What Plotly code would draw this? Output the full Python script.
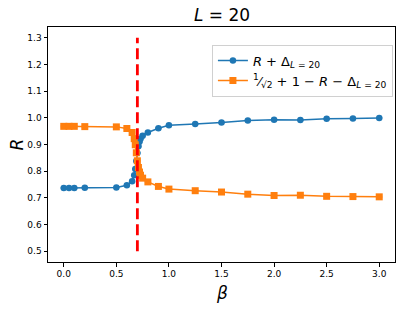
import plotly.graph_objects as go

beta = [0.0, 0.05, 0.1, 0.2, 0.5, 0.6, 0.65, 0.67, 0.68, 0.69, 0.7, 0.71, 0.72, 0.73, 0.75,
        0.8, 0.9, 1.0, 1.25, 1.5, 1.75, 2.0, 2.25, 2.5, 2.75, 3.0]
r_plus_delta = [0.737, 0.737, 0.737, 0.738, 0.739, 0.747, 0.762, 0.785, 0.808, 0.838, 0.868,
                0.893, 0.910, 0.922, 0.933, 0.945, 0.961, 0.972, 0.977, 0.982, 0.990, 0.993,
                0.992, 0.996, 0.997, 0.999]
r_complement = [0.968, 0.968, 0.968, 0.967, 0.966, 0.960, 0.945, 0.922, 0.899, 0.869, 0.839,
                0.814, 0.797, 0.785, 0.774, 0.760, 0.743, 0.733, 0.727, 0.722, 0.714, 0.709,
                0.710, 0.706, 0.705, 0.704]
err_blue = [0.002] * len(beta)
err_orange = [0.002] * len(beta)

crit_beta = [0.7, 0.7]
crit_range = [0.5, 1.3]

x_ticks = [0.0, 0.5, 1.0, 1.5, 2.0, 2.5, 3.0]
y_ticks = [0.5, 0.6, 0.7, 0.8, 0.9, 1.0, 1.1, 1.2, 1.3]

BLUE = "#1f77b4"
ORANGE = "#ff7f0e"
FONT = "DejaVu Sans"

fig = go.Figure()
fig.add_trace(go.Scatter(
    x=beta, y=r_plus_delta, mode="lines+markers",
    name="<i>R</i> + Δ<sub><i>L</i> = 20</sub>",
    line=dict(color=BLUE, width=1.5),
    marker=dict(symbol="circle", size=6.5, color=BLUE),
    error_y=dict(type="data", array=err_blue, color=BLUE, thickness=1, width=3),
))
fig.add_trace(go.Scatter(
    x=beta, y=r_complement, mode="lines+markers",
    name="<sup>1</sup>⁄<sub>√2</sub> + 1 − <i>R</i> − Δ<sub><i>L</i> = 20</sub>",
    line=dict(color=ORANGE, width=1.5),
    marker=dict(symbol="square", size=7, color=ORANGE),
    error_y=dict(type="data", array=err_orange, color=ORANGE, thickness=1, width=3),
))
fig.add_trace(go.Scatter(
    x=crit_beta, y=crit_range, mode="lines", showlegend=False, hoverinfo="skip",
    line=dict(color="#ff0000", width=2.8, dash="11px,5px"),
))

axis_common = dict(
    showline=True, linecolor="black", linewidth=1, mirror=True,
    ticks="outside", ticklen=3.5, tickwidth=1, tickcolor="black",
    showgrid=False, zeroline=False, automargin=False,
    tickfont=dict(family=FONT, size=9, color="black"),
)

fig.update_layout(
    width=415, height=311,
    margin=dict(l=48, r=20, t=27, b=49, autoexpand=False),
    paper_bgcolor="white", plot_bgcolor="white",
    font=dict(family=FONT, color="black"),
    title=dict(text="<i>L</i> = 20", x=0.535, xanchor="center", xref="container",
               y=0.952, yanchor="middle", yref="container",
               font=dict(family=FONT, size=17, color="black")),
    xaxis=dict(range=[-0.15, 3.15], tickvals=x_ticks, tickformat=".1f", **axis_common),
    yaxis=dict(range=[0.46, 1.34], tickvals=y_ticks, tickformat=".1f", **axis_common),
    legend=dict(x=0.994, y=0.925, xanchor="right", yanchor="top",
                bgcolor="white", bordercolor="#d0d0d0", borderwidth=1,
                font=dict(family=FONT, size=13, color="black"),
                itemwidth=30, tracegroupgap=0),
    showlegend=True,
    annotations=[
        dict(text="<i>R</i>", xref="paper", yref="paper", x=0, y=0.5,
             xshift=-32, xanchor="center", yanchor="middle", textangle=-90,
             showarrow=False, font=dict(family=FONT, size=17, color="black")),
        dict(text="<i>β</i>", xref="paper", yref="paper", x=0.5, y=0,
             yshift=-31, xanchor="center", yanchor="middle",
             showarrow=False, font=dict(family=FONT, size=17, color="black")),
    ],
)

fig.write_html("out.html", config={"displayModeBar": False},
               post_script="document.body.style.margin='0';")
